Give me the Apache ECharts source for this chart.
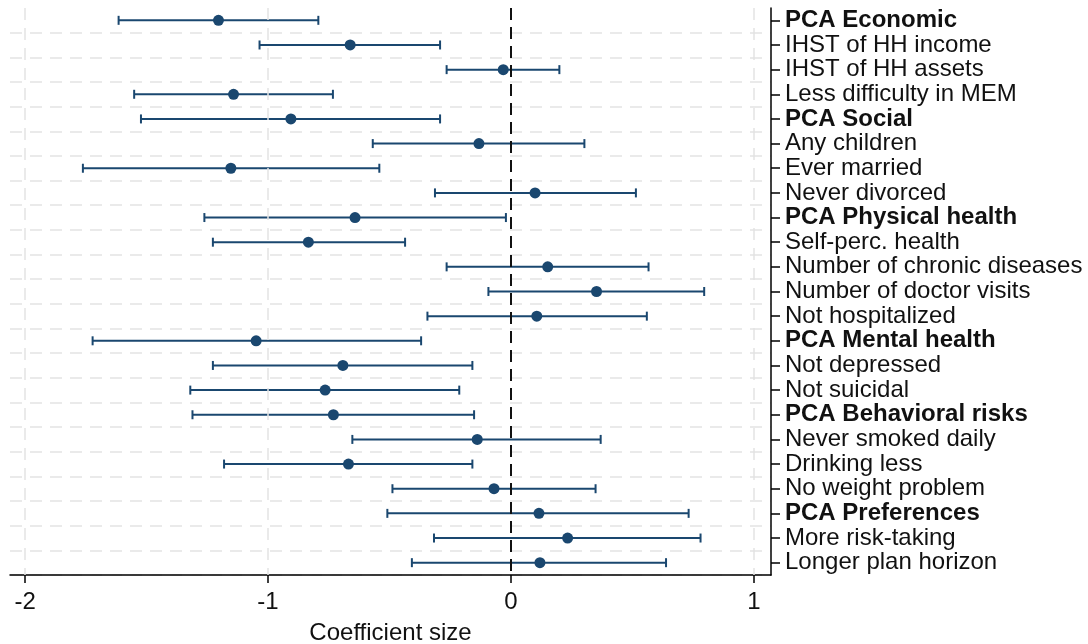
<!DOCTYPE html>
<html>
<head>
<meta charset="utf-8">
<script src="https://cdn.jsdelivr.net/npm/echarts@6/dist/echarts.min.js"></script>
<style>
  html, body { margin: 0; padding: 0; background: #fff; }
  #chart { width: 1088px; height: 644px; }
</style>
</head>
<body>
<div id="chart"></div>
<script>
const labels = [
  'PCA Economic', 'IHST of HH income', 'IHST of HH assets', 'Less difficulty in MEM',
  'PCA Social', 'Any children', 'Ever married', 'Never divorced',
  'PCA Physical health', 'Self-perc. health', 'Number of chronic diseases',
  'Number of doctor visits', 'Not hospitalized',
  'PCA Mental health', 'Not depressed', 'Not suicidal',
  'PCA Behavioral risks', 'Never smoked daily', 'Drinking less', 'No weight problem',
  'PCA Preferences', 'More risk-taking', 'Longer plan horizon'
]
const coef = [
  -1.204, -0.662, -0.032, -1.142,
  -0.906, -0.132, -1.153, 0.099,
  -0.642, -0.834, 0.151, 0.352, 0.106,
  -1.049, -0.692, -0.765,
  -0.731, -0.139, -0.669, -0.070,
  0.115, 0.233, 0.119
]
const ciLow = [
  -1.615, -1.035, -0.265, -1.551,
  -1.523, -0.569, -1.762, -0.313,
  -1.262, -1.227, -0.265, -0.093, -0.344,
  -1.722, -1.227, -1.320,
  -1.311, -0.653, -1.181, -0.488,
  -0.509, -0.317, -0.408
]
const ciHigh = [
  -0.793, -0.292, 0.199, -0.733,
  -0.292, 0.302, -0.542, 0.514,
  -0.021, -0.436, 0.566, 0.795, 0.559,
  -0.370, -0.159, -0.213,
  -0.152, 0.369, -0.159, 0.348,
  0.731, 0.780, 0.638
]
const xTicks = [-2, -1, 0, 1]

const navy = '#1a476f'
const font = '"Liberation Sans", Arial, Helvetica, sans-serif'
const chart = echarts.init(document.getElementById('chart'))

function renderBar(params, api) {
  const y = api.value(1)
  const lo = api.coord([api.value(0), y])
  const hi = api.coord([api.value(2), y])
  const cap = 4.5
  const style = { stroke: navy, lineWidth: 2 }
  return {
    type: 'group',
    children: [
      { type: 'line', shape: { x1: lo[0], y1: lo[1], x2: hi[0], y2: hi[1] }, style },
      { type: 'line', shape: { x1: lo[0], y1: lo[1] - cap, x2: lo[0], y2: lo[1] + cap }, style },
      { type: 'line', shape: { x1: hi[0], y1: hi[1] - cap, x2: hi[0], y2: hi[1] + cap }, style },
    ],
  }
}

chart.setOption({
  animation: false,
  grid: { left: 10, right: 317, top: 8, bottom: 69, outerBoundsMode: 'none', containLabel: false },
  xAxis: {
    type: 'value',
    min: -2.062,
    max: 1.07,
    name: 'Coefficient size',
    nameLocation: 'middle',
    nameGap: 46,
    nameTextStyle: { fontSize: 24, color: '#111', fontFamily: font },
    axisLine: { show: true, onZero: false, lineStyle: { color: '#000', width: 1.5 } },
    axisTick: { show: true, length: 8, customValues: xTicks, lineStyle: { color: '#000', width: 1.5 } },
    axisLabel: { customValues: xTicks, fontSize: 24, color: '#111', fontFamily: font, margin: 15 },
    splitLine: { show: false },
  },
  yAxis: {
    type: 'category',
    data: labels,
    inverse: true,
    position: 'right',
    boundaryGap: true,
    axisLine: { show: true, onZero: false, lineStyle: { color: '#000', width: 1.5 } },
    axisTick: { show: true, interval: 0, alignWithLabel: true, length: 9, lineStyle: { color: '#000', width: 1.5 } },
    axisLabel: {
      interval: 0,
      margin: 14,
      fontSize: 24,
      color: '#111',
      fontFamily: font,
      formatter: (v) => (v.startsWith('PCA') ? '{b|' + v + '}' : v),
      rich: { b: { fontWeight: 'bold', fontSize: 24, color: '#111', fontFamily: font } },
    },
    splitLine: {
      show: true,
      interval: (idx) => idx > 0,
      lineStyle: { color: '#e3e3e3', width: 1.5, type: [12, 8] },
    },
  },
  series: [
    {
      // light vertical grid lines
      type: 'scatter',
      data: [],
      z: 1,
      silent: true,
      markLine: {
        symbol: 'none',
        silent: true,
        label: { show: false },
        lineStyle: { color: '#e3e3e3', width: 1.5, type: [12, 8] },
        data: [{ xAxis: -2 }, { xAxis: -1 }, { xAxis: 1 }],
      },
    },
    {
      type: 'custom',
      renderItem: renderBar,
      encode: { x: [0, 2], y: 1 },
      data: labels.map((_, i) => [ciLow[i], i, ciHigh[i]]),
      z: 3,
    },
    {
      type: 'scatter',
      data: labels.map((_, i) => [coef[i], i]),
      symbol: 'circle',
      symbolSize: 11,
      itemStyle: { color: navy, opacity: 1 },
      z: 5,
      markLine: {
        symbol: 'none',
        silent: true,
        label: { show: false },
        lineStyle: { color: '#111', width: 2, type: [12, 7] },
        data: [{ xAxis: 0 }],
      },
    },
  ],
})
</script>
</body>
</html>
